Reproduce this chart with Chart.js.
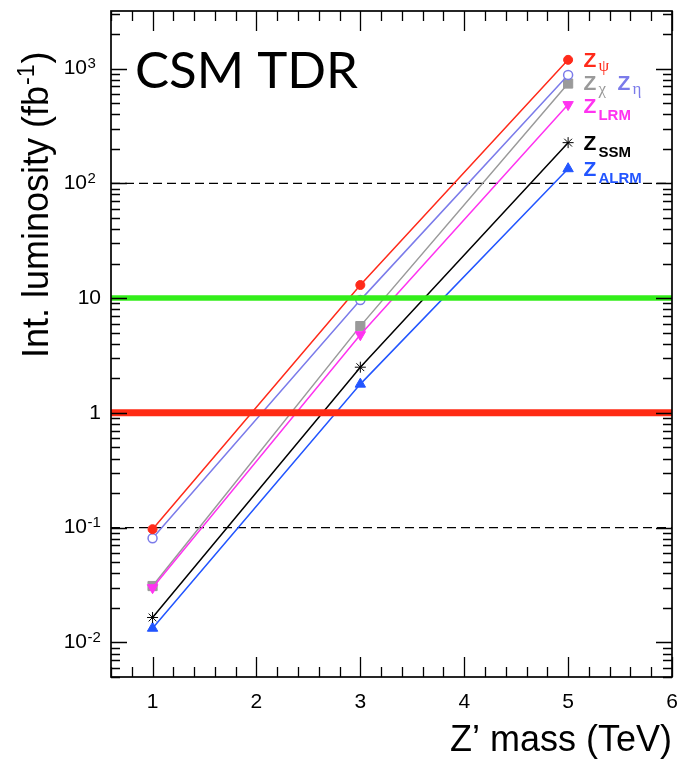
<!DOCTYPE html>
<html><head><meta charset="utf-8">
<script src="https://cdn.jsdelivr.net/npm/chart.js@4.4.1/dist/chart.umd.min.js"></script>
<style>html,body{margin:0;padding:0;background:#fff;}#wrap{width:680px;height:768px;}</style>
</head><body><div id="wrap"><canvas id="c" width="680" height="768"></canvas></div>
<script>
// ---- data ----
const massTeV   = [1, 3, 5];
const lumiZpsi  = [0.097, 13.0, 1190];
const lumiZeta  = [0.081, 9.6, 880];
const lumiZchi  = [0.031, 5.7, 740];
const lumiZLRM  = [0.030, 4.8, 485];
const lumiZSSM  = [0.0165, 2.5, 226];
const lumiZALRM = [0.0133, 1.78, 134];
const xRange = [0.6, 6];
const yRange = [0.005, 3170];
const xTickValues = [1, 2, 3, 4, 5, 6];
const yDecades = [0.01, 0.1, 1, 10, 100, 1000];
const yDecadeLabels = [['10','-2'], ['10','-1'], ['1',''], ['10',''], ['10','2'], ['10','3']];
const thickLevels = [10, 1];     // green, red
const dashedLevels = [100, 0.1];
const seriesLabels = [['Z','\u03C8'], ['Z','\u03B7'], ['Z','\u03C7'], ['Z','LRM'], ['Z','SSM'], ['Z','ALRM']];

const FONT = '"Liberation Sans", Arimo, Arial, Helvetica, sans-serif';
const pts = ys => massTeV.map((x, i) => ({x: x, y: ys[i]}));
const hline = v => xRange.map(x => ({x: x, y: v}));

const seriesStyle = [
  {data: lumiZpsi,  color: '#ff2a1a', style: 'circle',   r: 4.5, bg: '#ff2a1a', rot: 0,   order: 5},
  {data: lumiZeta,  color: '#7b7bea', style: 'circle',   r: 4.5, bg: '#ffffff', rot: 0,   order: 5},
  {data: lumiZchi,  color: '#9a9a9a', style: 'rect',     r: 6.5, bg: '#9a9a9a', rot: 0,   order: 6},
  {data: lumiZLRM,  color: '#ff33f0', style: 'triangle', r: 6,   bg: '#ff33f0', rot: 180, order: 5},
  {data: lumiZSSM,  color: '#000000', style: 'star',     r: 5.5, bg: '#000000', rot: 0,   order: 5},
  {data: lumiZALRM, color: '#2255ff', style: 'triangle', r: 6,   bg: '#2255ff', rot: 0,   order: 5}
];

const datasets = [];
dashedLevels.forEach(v => datasets.push({
  data: hline(v), borderColor: '#000', borderWidth: 1.2, borderDash: [9, 5],
  pointRadius: 0, order: 10
}));
seriesStyle.forEach(s => datasets.push({
  data: pts(s.data), borderColor: s.color, borderWidth: 1.5,
  pointStyle: s.style, pointRadius: s.r, pointBackgroundColor: s.bg,
  pointBorderColor: s.color, pointBorderWidth: s.bg === '#ffffff' ? 1.5 : 1,
  pointRotation: s.rot, order: s.order, tension: 0
}));
[['#33ee1a', 5.5], ['#ff2b14', 7]].forEach((st, i) => datasets.push({
  data: hline(thickLevels[i]), borderColor: st[0], borderWidth: st[1],
  pointRadius: 0, order: 1
}));

const decor = {
  id: 'decor',
  afterDraw(chart) {
    const ctx = chart.ctx, ca = chart.chartArea;
    const xs = chart.scales.x, ys = chart.scales.y;
    ctx.save();
    ctx.strokeStyle = '#000';
    // ticks (inside the frame, mirrored)
    ctx.lineWidth = 1.3;
    ctx.beginPath();
    for (let k = 3; k <= 30; k++) {
      const v = k / 5;
      const px = Math.round(xs.getPixelForValue(v)) + 0.5;
      const len = (k % 5 === 0) ? 20 : 10;
      ctx.moveTo(px, ca.bottom); ctx.lineTo(px, ca.bottom - len);
      ctx.moveTo(px, ca.top); ctx.lineTo(px, ca.top + len);
    }
    for (let d = -3; d <= 3; d++) {
      for (let m = 1; m <= 9; m++) {
        const v = m * Math.pow(10, d);
        if (v < yRange[0] || v > yRange[1]) continue;
        const py = Math.round(ys.getPixelForValue(v)) + 0.5;
        const len = m === 1 ? 16 : 9;
        ctx.moveTo(ca.left, py); ctx.lineTo(ca.left + len, py);
        ctx.moveTo(ca.right, py); ctx.lineTo(ca.right - len, py);
      }
    }
    ctx.stroke();
    // frame
    ctx.lineWidth = 1.7;
    ctx.strokeRect(ca.left, ca.top, ca.right - ca.left, ca.bottom - ca.top);

    // y tick labels with exponents
    ctx.fillStyle = '#000';
    yDecades.forEach((v, i) => {
      const py = ys.getPixelForValue(v);
      const [base, exp] = yDecadeLabels[i];
      ctx.font = '21px ' + FONT;
      ctx.textBaseline = 'middle';
      if (!exp) {
        ctx.textAlign = 'right';
        ctx.fillText(base, ca.left - 10, py);
      } else {
        ctx.textAlign = 'right';
        ctx.fillText(base, ca.left - 24, py);
        ctx.textAlign = 'left';
        ctx.textBaseline = 'alphabetic';
        ctx.font = '15px ' + FONT;
        ctx.fillText(exp, ca.left - 23.5, py - 0.5);
      }
    });

    // y axis title
    ctx.save();
    ctx.translate(ca.left - 63, ca.top + 347);
    ctx.rotate(-Math.PI / 2);
    ctx.textAlign = 'left'; ctx.textBaseline = 'alphabetic';
    ctx.font = '36px ' + FONT;
    const t1 = 'Int. luminosity (fb';
    ctx.fillText(t1, 0, 0);
    const w1 = ctx.measureText(t1).width;
    ctx.font = '23px ' + FONT;
    ctx.fillText('-1', w1 + 1, -14);
    const w2 = ctx.measureText('-1').width;
    ctx.font = '36px ' + FONT;
    ctx.fillText(')', w1 + w2 + 2, 0);
    ctx.restore();

    // big label
    ctx.font = '51px Lato, "Open Sans", sans-serif';
    ctx.textAlign = 'left'; ctx.textBaseline = 'alphabetic';
    ctx.fillText('CSM TDR', ca.left + 24, ca.top + 77);

    // series labels next to the last points
    const x5 = xs.getPixelForValue(massTeV[massTeV.length - 1]);
    const place = [
      {dx: 15.5, base: 55.5}, {dx: 49.5, base: 79}, {dx: 15.5, base: 79},
      {dx: 15.5, base: 102}, {dx: 15.5, base: 139}, {dx: 15.5, base: 165}
    ];
    seriesLabels.forEach((lab, i) => {
      const p = place[i];
      const x = x5 + p.dx, y = ca.top + p.base;
      ctx.fillStyle = seriesStyle[i].color;
      ctx.textAlign = 'left'; ctx.textBaseline = 'alphabetic';
      ctx.font = 'bold 21px ' + FONT;
      ctx.fillText(lab[0], x, y);
      const wz = ctx.measureText(lab[0]).width;
      const greek = /[\u0370-\u03FF]/.test(lab[1]);
      if (greek) {
        ctx.font = '17px "Liberation Serif", "DejaVu Serif", serif';
        ctx.fillText(lab[1], x + wz + 2, y + 4);
      } else {
        ctx.font = 'bold 15px ' + FONT;
        ctx.fillText(lab[1], x + wz + 2, y + 7);
      }
    });
    ctx.restore();
  }
};

new Chart(document.getElementById('c'), {
  type: 'line',
  data: {datasets: datasets},
  options: {
    responsive: false,
    animation: false,
    layout: {padding: {left: 0, right: 8, top: 11, bottom: 0}},
    plugins: {legend: {display: false}, tooltip: {enabled: false}},
    scales: {
      x: {
        type: 'linear', min: xRange[0], max: xRange[1],
        afterBuildTicks: s => { s.ticks = xTickValues.map(v => ({value: v})); },
        grid: {display: false, drawTicks: false, tickLength: 0},
        border: {display: false},
        ticks: {font: {family: FONT, size: 21}, color: '#000', padding: 13, maxRotation: 0, autoSkip: false},
        title: {display: true, text: 'Z\u2019 mass (TeV)', align: 'end', color: '#000',
                font: {family: FONT, size: 36}, padding: {top: 0, bottom: 5}},
        afterFit: s => { s.height = 91; s.paddingLeft = 0; s.paddingRight = 0; }
      },
      y: {
        type: 'logarithmic', min: yRange[0], max: yRange[1],
        ticks: {display: false},
        grid: {display: false, drawTicks: false},
        border: {display: false},
        afterFit: s => { s.width = 111; s.paddingTop = 0; s.paddingBottom = 0; }
      }
    }
  },
  plugins: [decor]
});
</script>
</body></html>
